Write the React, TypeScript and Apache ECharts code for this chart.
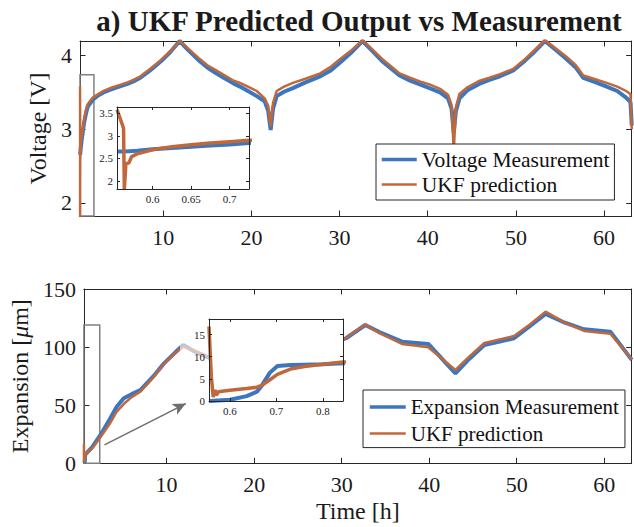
import React, { useEffect, useRef } from "react";
import * as echarts from "echarts";

// ---------- data ----------
const voltageTime = [
  0.554, 0.5615, 0.5625, 0.5635, 0.5655, 0.5695, 0.573, 0.58, 0.6, 0.625, 0.65, 0.675, 0.7, 0.725,
  0.85, 1.0, 1.2, 1.43, 2.0, 2.5, 3.2, 4.0, 5.0, 6.0, 6.6, 7.4, 8.5, 9.7, 10.8, 11.85,
  12.8, 14.0, 15.0, 16.0, 17.0, 18.0, 18.7, 19.6, 20.6, 21.5, 21.9, 22.18, 22.45, 22.86,
  23.7, 24.7, 26.2, 27.8, 29.0, 30.0, 31.3, 32.6, 33.6, 34.8, 36.0, 36.8, 38.0, 39.1,
  40.2, 41.4, 42.3, 42.7, 42.95, 43.2, 43.6, 44.5, 45.9, 47.0, 48.2, 49.7, 51.0, 51.9,
  53.3, 54.5, 55.7, 56.8, 57.65, 59.0, 60.3, 61.5, 62.5, 63.0, 63.15,
];
const voltageMeasured = [
  2.65, 2.651, 2.652, 2.653, 2.655, 2.66, 2.663, 2.67, 2.7, 2.73, 2.76, 2.785, 2.81, 2.84,
  2.95, 3.08, 3.2, 3.31, 3.4, 3.45, 3.5, 3.54, 3.58, 3.62, 3.65, 3.7, 3.8, 3.92, 4.05, 4.2,
  4.08, 3.94, 3.84, 3.76, 3.69, 3.62, 3.58, 3.52, 3.45, 3.38, 3.25, 2.99, 3.28, 3.45,
  3.51, 3.56, 3.64, 3.72, 3.8, 3.9, 4.04, 4.2, 4.08, 3.93, 3.81, 3.73, 3.66, 3.61,
  3.56, 3.5, 3.42, 3.28, 2.95, 3.25, 3.42, 3.53, 3.62, 3.67, 3.72, 3.8, 3.93, 4.03,
  4.2, 4.08, 3.96, 3.84, 3.7, 3.64, 3.58, 3.52, 3.43, 3.37, 3.05,
];
const voltagePredicted = [
  3.58, 3.22, 3.16, 1.8, 2.38, 2.4, 2.54, 2.6, 2.69, 2.76, 2.8, 2.84, 2.87, 2.9,
  2.98, 3.12, 3.25, 3.34, 3.43, 3.47, 3.52, 3.56, 3.6, 3.64, 3.67, 3.72, 3.82, 3.94, 4.06, 4.2,
  4.1, 3.97, 3.87, 3.8, 3.73, 3.66, 3.63, 3.58, 3.52, 3.42, 3.32, 3.04, 3.36, 3.52,
  3.58, 3.63, 3.69, 3.76, 3.85, 3.95, 4.07, 4.21, 4.1, 3.96, 3.84, 3.76, 3.7, 3.65,
  3.61, 3.55, 3.47, 3.33, 2.7, 3.3, 3.48, 3.57, 3.66, 3.7, 3.75, 3.82, 3.95, 4.05,
  4.21, 4.1, 3.99, 3.87, 3.73, 3.68, 3.63, 3.58, 3.52, 3.48, 3.0,
];

const expansionTime = [
  0.555, 0.56, 0.564, 0.568, 0.571, 0.575, 0.6, 0.636, 0.658, 0.668, 0.686, 0.702, 0.73, 0.76,
  0.8, 0.843, 1.5, 2.5, 3.5, 4.3, 5.1, 6.0, 7.0, 8.5, 9.7, 11.0, 11.9, 13.0, 14.0, 15.0,
  17.0, 20.0, 22.2, 25.0, 28.0, 30.5, 32.7, 34.3, 36.9, 39.9, 43.0, 44.6, 46.3, 49.7,
  51.5, 53.3, 55.5, 57.7, 60.7, 63.15,
];
const expansionMeasured = [
  0, 0.02, 0.05, 0.08, 0.1, 0.12, 0.3, 1.1, 2.1, 3.4, 6.4, 7.9, 8.1, 8.2,
  8.3, 8.5, 14, 25, 38, 48.7, 56, 59.5, 63, 75, 86, 95.5, 101.8, 97, 93.5, 90.4,
  88, 84, 79, 90, 100, 107.6, 119, 113, 104.7, 102.7, 77.4, 90, 101.8, 107.6,
  118, 128.5, 121, 115.3, 113.3, 89,
];
const expansionPredicted = [
  16.8, 5.6, 0.9, 2.5, 1.3, 2.1, 2.4, 2.8, 3.1, 3.5, 4.8, 6.0, 7.2, 7.8,
  8.3, 8.8, 13, 23, 34, 44.4, 51, 57, 61.7, 74, 85.5, 95, 100.5, 97.5, 94, 91,
  88, 83, 81, 90, 99, 108, 119.5, 112, 102.7, 99.8, 80.3, 92, 103.5, 109.5,
  119.5, 130.5, 121, 113.9, 111.5, 89.5,
];

const timeTicks = [10, 20, 30, 40, 50, 60];
const voltageTicks = [2, 3, 4];
const expansionTicks = [0, 50, 100, 150];
const voltageInsetTimeTicks = [0.6, 0.65, 0.7];
const voltageInsetTicks = [2, 2.5, 3, 3.5];
const expansionInsetTimeTicks = [0.6, 0.7, 0.8];
const expansionInsetTicks = [0, 5, 10, 15];

// zoom boxes [x0, y0, x1, y1] in data units, and arrow [x0, y0, x1, y1]
const voltageZoomBox = [0.55, 1.82, 2.13, 3.74];
const expansionZoomBox = [0.55, 0, 2.36, 119];
const expansionArrow = [2.9, 15.8, 12.2, 51.4];

// ---------- style ----------
const FONT = "Liberation Serif";
const AX = "#262626";
const BLUE = "#3b76bf";
const ORANGE = "#c1683b";

const zip = (t: number[], v: number[]) => t.map((x, i) => [x, v[i]]);

function axis(
  position: string,
  gridIndex: number,
  min: number,
  max: number,
  ticks: number[],
  showLabel: boolean,
  fontSize: number,
  tickLen: number,
  margin: number,
  extra: any = {}
) {
  return {
    type: "value",
    gridIndex,
    position,
    min,
    max,
    axisLine: { show: true, onZero: false, lineStyle: { color: AX, width: 1 } },
    axisTick: {
      show: true,
      inside: true,
      length: tickLen,
      customValues: ticks,
      lineStyle: { color: AX, width: 1 },
    },
    axisLabel: {
      show: showLabel,
      customValues: ticks,
      fontFamily: FONT,
      fontSize,
      color: "#1a1a1a",
      margin,
    },
    splitLine: { show: false },
    ...extra,
  };
}

const hiddenSymbol = { color: "rgba(0,0,0,0)", borderColor: "rgba(0,0,0,0)", borderWidth: 0 };

export default function App() {
  const ref = useRef<HTMLDivElement>(null);

  useEffect(() => {
    if (!ref.current) return;
    const chart = echarts.init(ref.current, undefined, { renderer: "svg" });

    const vMeas = zip(voltageTime, voltageMeasured);
    const vPred = zip(voltageTime, voltagePredicted);
    const eMeas = zip(expansionTime, expansionMeasured);
    const ePred = zip(expansionTime, expansionPredicted);

    const nameStyle = { fontFamily: FONT, fontSize: 24, color: "#1a1a1a" };

    const xMin = 0.55;
    const xMax = 63.14;

    const option: any = {
      animation: false,
      backgroundColor: "#fff",
      graphic: [
        {
          type: "text",
          x: 359,
          y: 21,
          style: {
            text: "a) UKF Predicted Output vs Measurement",
            fontFamily: FONT,
            fontWeight: "bold",
            fontSize: 29,
            fill: "#1a1a1a",
            textAlign: "center",
            textVerticalAlign: "middle",
          },
        },
        {
          // pale veil left of the lower inset (as in the original figure)
          type: "rect",
          z: 3,
          silent: true,
          shape: { x: 180, y: 319, width: 29, height: 82 },
          style: { fill: "rgba(255,255,255,0.6)" },
        },
      ],
      grid: [
        { left: 80, top: 41, width: 551.7, height: 175 },
        { left: 80, top: 289, width: 551.7, height: 174.3 },
        { left: 117, top: 107, width: 132, height: 82, show: true, backgroundColor: "#fff", borderWidth: 0, z: 3 },
        { left: 209, top: 319, width: 134, height: 82, show: true, backgroundColor: "#fff", borderWidth: 0, z: 3 },
      ],
      xAxis: [
        axis("bottom", 0, xMin, xMax, timeTicks, true, 22, 5.5, 10),
        axis("top", 0, xMin, xMax, timeTicks, false, 22, 5.5, 10),
        axis("bottom", 1, xMin, xMax, timeTicks, true, 22, 5.5, 10, {
          name: "Time [h]",
          nameLocation: "middle",
          nameGap: 36,
          nameTextStyle: nameStyle,
        }),
        axis("top", 1, xMin, xMax, timeTicks, false, 22, 5.5, 10),
        axis("bottom", 2, 0.554, 0.725, voltageInsetTimeTicks, true, 11, 3, 4, { z: 5 }),
        axis("top", 2, 0.554, 0.725, voltageInsetTimeTicks, false, 11, 3, 4, { z: 5 }),
        axis("bottom", 3, 0.555, 0.843, expansionInsetTimeTicks, true, 11, 3, 4, { z: 5 }),
        axis("top", 3, 0.555, 0.843, expansionInsetTimeTicks, false, 11, 3, 4, { z: 5 }),
      ],
      yAxis: [
        axis("left", 0, 1.82, 4.2, voltageTicks, true, 22, 5.5, 8, {
          name: "Voltage [V]",
          nameLocation: "middle",
          nameGap: 19,
          nameTextStyle: nameStyle,
        }),
        axis("right", 0, 1.82, 4.2, voltageTicks, false, 22, 5.5, 8),
        axis("left", 1, 0, 150, expansionTicks, true, 22, 5.5, 8, {
          name: "Expansion [{mu|μ}m]",
          nameLocation: "middle",
          nameGap: 44,
          nameTextStyle: {
            ...nameStyle,
            rich: { mu: { fontFamily: FONT, fontSize: 24, fontStyle: "italic", color: "#1a1a1a" } },
          },
        }),
        axis("right", 1, 0, 150, expansionTicks, false, 22, 5.5, 8),
        axis("left", 2, 1.82, 3.64, voltageInsetTicks, true, 11, 3, 4, { z: 5 }),
        axis("right", 2, 1.82, 3.64, voltageInsetTicks, false, 11, 3, 4, { z: 5 }),
        axis("left", 3, 0, 18.5, expansionInsetTicks, true, 11, 3, 4, { z: 5 }),
        axis("right", 3, 0, 18.5, expansionInsetTicks, false, 11, 3, 4, { z: 5 }),
      ],
      legend: [
        {
          orient: "vertical",
          left: 376,
          top: 144,
          padding: [3, 5, 3, 4],
          itemGap: 0,
          itemWidth: 35,
          itemHeight: 14,
          backgroundColor: "#fff",
          borderColor: AX,
          borderWidth: 1,
          selectedMode: false,
          z: 6,
          textStyle: { fontFamily: FONT, fontSize: 21.5, color: "#111", lineHeight: 25 },
          data: [
            { name: "Voltage Measurement", lineStyle: { width: 3.5 }, itemStyle: hiddenSymbol },
            { name: "UKF prediction", lineStyle: { width: 2.5 }, itemStyle: hiddenSymbol },
          ],
        },
        {
          orient: "vertical",
          left: 363,
          top: 390,
          padding: [4, 6, 1, 5],
          itemGap: 0.6,
          itemWidth: 36,
          itemHeight: 14,
          backgroundColor: "#fff",
          borderColor: AX,
          borderWidth: 1,
          selectedMode: false,
          z: 6,
          textStyle: { fontFamily: FONT, fontSize: 21, color: "#111", lineHeight: 26 },
          data: [
            { name: "Expansion Measurement", lineStyle: { width: 3.5 }, itemStyle: hiddenSymbol },
            { name: "UKF prediction", lineStyle: { width: 2.5 }, itemStyle: hiddenSymbol },
          ],
        },
      ],
      series: [
        {
          name: "Voltage Measurement",
          type: "line",
          xAxisIndex: 0,
          yAxisIndex: 0,
          data: vMeas,
          symbol: "none",
          showSymbol: false,
          lineStyle: { color: BLUE, width: 4 },
          itemStyle: { color: BLUE },
          z: 2,
          markArea: {
            silent: true,
            itemStyle: { color: "rgba(0,0,0,0)", borderColor: "#808080", borderWidth: 1.5 },
            data: [[{ coord: [voltageZoomBox[0], voltageZoomBox[1]] }, { coord: [voltageZoomBox[2], voltageZoomBox[3]] }]],
          },
        },
        {
          name: "UKF prediction",
          type: "line",
          xAxisIndex: 0,
          yAxisIndex: 0,
          data: vPred,
          symbol: "none",
          showSymbol: false,
          lineStyle: { color: ORANGE, width: 2.5 },
          itemStyle: { color: ORANGE },
          z: 2,
        },
        {
          name: "Expansion Measurement",
          type: "line",
          xAxisIndex: 2,
          yAxisIndex: 2,
          data: eMeas,
          symbol: "none",
          showSymbol: false,
          lineStyle: { color: BLUE, width: 4 },
          itemStyle: { color: BLUE },
          z: 2,
          markArea: {
            silent: true,
            itemStyle: { color: "rgba(0,0,0,0)", borderColor: "#808080", borderWidth: 1.5 },
            data: [[{ coord: [expansionZoomBox[0], expansionZoomBox[1]] }, { coord: [expansionZoomBox[2], expansionZoomBox[3]] }]],
          },
          markLine: {
            silent: true,
            symbol: ["none", "arrow"],
            symbolSize: [9, 13],
            label: { show: false },
            lineStyle: { color: "#6e6e6e", width: 1.5, type: "solid" },
            data: [[{ coord: [expansionArrow[0], expansionArrow[1]] }, { coord: [expansionArrow[2], expansionArrow[3]] }]],
          },
        },
        {
          name: "UKF prediction",
          type: "line",
          xAxisIndex: 2,
          yAxisIndex: 2,
          data: ePred,
          symbol: "none",
          showSymbol: false,
          lineStyle: { color: ORANGE, width: 2.5 },
          itemStyle: { color: ORANGE },
          z: 2,
        },
        {
          name: "inset voltage measurement",
          type: "line",
          xAxisIndex: 4,
          yAxisIndex: 4,
          data: vMeas,
          symbol: "none",
          showSymbol: false,
          clip: true,
          lineStyle: { color: BLUE, width: 4 },
          z: 4,
        },
        {
          name: "inset voltage prediction",
          type: "line",
          xAxisIndex: 4,
          yAxisIndex: 4,
          data: vPred,
          symbol: "none",
          showSymbol: false,
          clip: true,
          lineStyle: { color: ORANGE, width: 3.5 },
          z: 4,
        },
        {
          name: "inset expansion measurement",
          type: "line",
          xAxisIndex: 6,
          yAxisIndex: 6,
          data: eMeas,
          symbol: "none",
          showSymbol: false,
          clip: true,
          lineStyle: { color: BLUE, width: 4 },
          z: 4,
        },
        {
          name: "inset expansion prediction",
          type: "line",
          xAxisIndex: 6,
          yAxisIndex: 6,
          data: ePred,
          symbol: "none",
          showSymbol: false,
          clip: true,
          lineStyle: { color: ORANGE, width: 3.5 },
          z: 4,
        },
      ],
    };

    chart.setOption(option);
    return () => chart.dispose();
  }, []);

  return (
    <div
      ref={ref}
      style={{ position: "absolute", left: 0, top: 0, width: 634, height: 527 }}
    />
  );
}
